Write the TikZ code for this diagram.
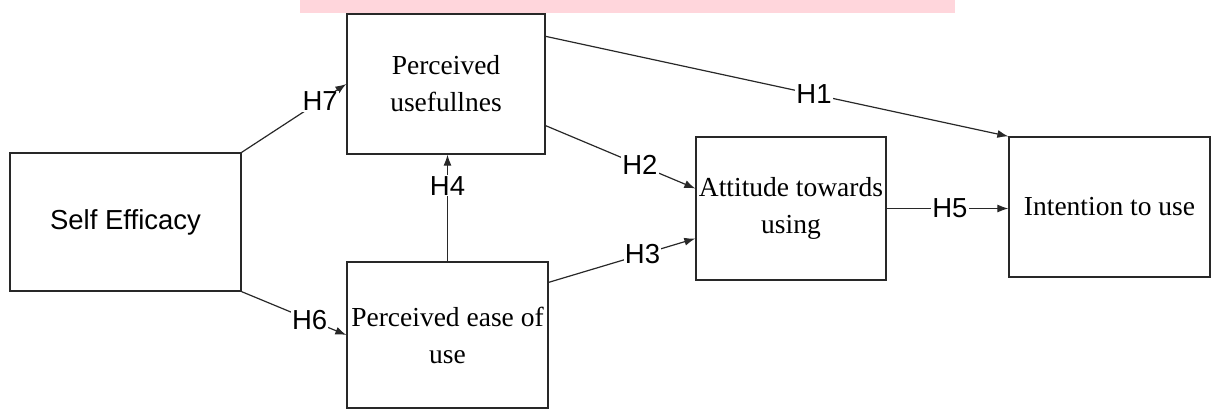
\documentclass[tikz,border=0pt]{standalone}
\usepackage{fontspec}
\setmainfont{Liberation Serif}
\setsansfont{Liberation Sans}
\usetikzlibrary{arrows.meta}
\definecolor{bandpink}{RGB}{255,214,220}
\definecolor{linegray}{RGB}{40,40,40}

\begin{document}
\begin{tikzpicture}[x=1pt,y=-1pt,
  box/.style={draw=linegray,line width=1.3pt,align=center,inner sep=1pt,
    font=\fontsize{27.5}{37}\selectfont},
  link/.style={draw=linegray,line width=1.2pt,-{Latex[length=11pt,width=8pt]}},
  hyp/.style={fill=white,inner sep=1pt,font=\sffamily\fontsize{27.5}{30}\selectfont}]
  \useasboundingbox (0,0) rectangle (1211,410);
  \fill[bandpink] (300,0) rectangle (955,13);

  \node[box,minimum width=231pt,minimum height=138pt,font=\sffamily\fontsize{27.5}{30}\selectfont]
    (self) at (125.5,222) {Self Efficacy};
  \node[box,minimum width=198pt,minimum height=140pt] (useful) at (446,84) {Perceived\\usefullnes};
  \node[box,minimum width=201pt,minimum height=146pt] (ease) at (447.5,335) {Perceived ease of\\use};
  \node[box,minimum width=190pt,minimum height=143pt] (attitude) at (791,208.5) {Attitude towards\\using};
  \node[box,minimum width=201pt,minimum height=140pt] (intention) at (1109.5,207) {Intention to use};

  \draw[link] (self.north east) -- node[hyp,pos=0.75] {H7} (useful.west);
  \draw[link] (self.south east) -- node[hyp,pos=0.65] {H6} (ease.west);
  \draw[link] (ease.north) -- node[hyp,pos=0.71] {H4} (ease.north |- useful.south);
  \draw[link] ([yshift=29pt]useful.south east) -- node[hyp,pos=0.63] {H2} ([yshift=20pt]attitude.west);
  \draw[link] ([yshift=-21pt]ease.north east) -- node[hyp,pos=0.64] {H3} ([yshift=-30pt]attitude.west);
  \draw[link] (attitude.east) -- node[hyp,pos=0.52] {H5} (attitude.east -| intention.west);
  \draw[link] ([yshift=-23pt]useful.north east) -- node[hyp,pos=0.58] {H1} (intention.north west);

\end{tikzpicture}
\end{document}
